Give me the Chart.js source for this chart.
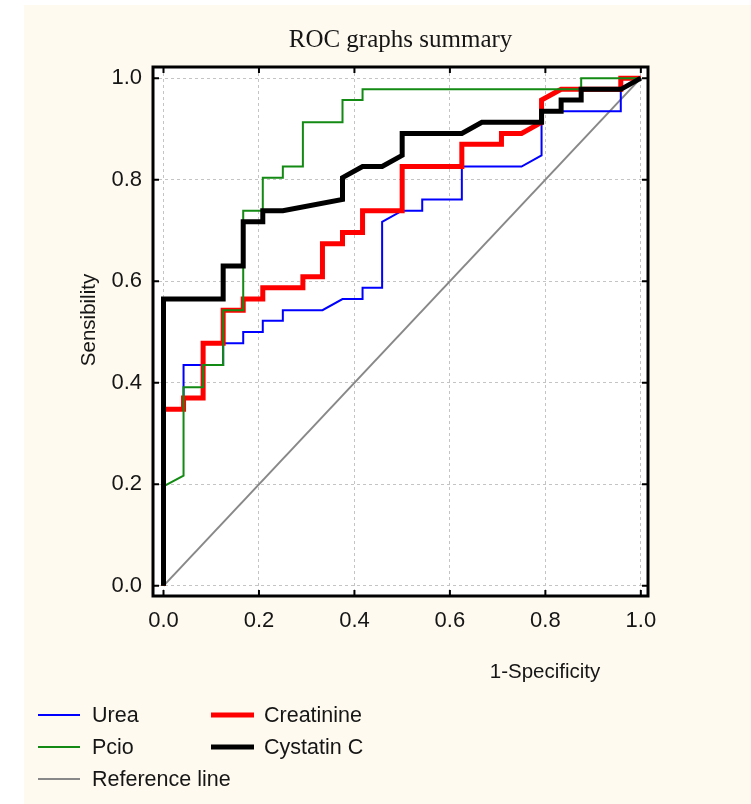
<!DOCTYPE html>
<html>
<head>
<meta charset="utf-8">
<script src="https://cdn.jsdelivr.net/npm/chart.js@4.4.1/dist/chart.umd.min.js"></script>
<style>
html, body { margin: 0; padding: 0; background: #fff; }
#wrap { position: relative; width: 751px; height: 804px; overflow: hidden; }
#paper { position: absolute; left: 24px; top: 5px; right: 0; bottom: 0; background: #fefaef; }
#roc { position: absolute; left: 0; top: 0; }
</style>
</head>
<body>
<div id="wrap"><div id="paper"></div><canvas id="roc" width="751" height="804"></canvas></div>
<script>
// ROC step curves (x = 1-Specificity, y = Sensibility)
const ureaX = [0, 0, 0.042, 0.042, 0.125, 0.125, 0.167, 0.167, 0.208, 0.208, 0.25, 0.25, 0.333, 0.375, 0.417, 0.417, 0.458, 0.458, 0.5, 0.542, 0.542, 0.625, 0.625, 0.75, 0.792, 0.792, 0.958, 0.958, 1]
const ureaY = [0, 0.348, 0.348, 0.435, 0.435, 0.478, 0.478, 0.5, 0.5, 0.522, 0.522, 0.543, 0.543, 0.565, 0.565, 0.587, 0.587, 0.717, 0.739, 0.739, 0.761, 0.761, 0.826, 0.826, 0.848, 0.935, 0.935, 0.978, 1]

const creatX = [0, 0, 0.042, 0.042, 0.083, 0.083, 0.125, 0.125, 0.167, 0.167, 0.208, 0.208, 0.292, 0.292, 0.333, 0.333, 0.375, 0.375, 0.417, 0.417, 0.5, 0.5, 0.625, 0.625, 0.708, 0.708, 0.75, 0.792, 0.792, 0.833, 0.958, 0.958, 1]
const creatY = [0, 0.348, 0.348, 0.370, 0.370, 0.478, 0.478, 0.543, 0.543, 0.565, 0.565, 0.587, 0.587, 0.609, 0.609, 0.674, 0.674, 0.696, 0.696, 0.739, 0.739, 0.826, 0.826, 0.870, 0.870, 0.891, 0.891, 0.913, 0.957, 0.978, 0.978, 1, 1]

const pcioX = [0, 0, 0.042, 0.042, 0.083, 0.083, 0.125, 0.125, 0.167, 0.167, 0.208, 0.208, 0.25, 0.25, 0.292, 0.292, 0.375, 0.375, 0.417, 0.417, 0.875, 0.875, 1]
const pcioY = [0, 0.196, 0.217, 0.391, 0.391, 0.435, 0.435, 0.543, 0.543, 0.739, 0.739, 0.804, 0.804, 0.826, 0.826, 0.913, 0.913, 0.957, 0.957, 0.978, 0.978, 1, 1]

const cystX = [0, 0, 0.125, 0.125, 0.167, 0.167, 0.208, 0.208, 0.25, 0.375, 0.375, 0.417, 0.458, 0.5, 0.5, 0.625, 0.667, 0.792, 0.792, 0.833, 0.833, 0.875, 0.875, 0.958, 1]
const cystY = [0, 0.565, 0.565, 0.630, 0.630, 0.717, 0.717, 0.739, 0.739, 0.761, 0.804, 0.826, 0.826, 0.848, 0.891, 0.891, 0.913, 0.913, 0.935, 0.935, 0.957, 0.957, 0.978, 0.978, 1]

const refX = [0, 1]
const refY = [0, 1]

const tickValues = [0, 0.2, 0.4, 0.6, 0.8, 1.0]

const pts = (xs, ys) => xs.map((x, i) => ({ x: x, y: ys[i] }))

const lineDefaults = {
    showLine: true,
    pointRadius: 0,
    pointHoverRadius: 0,
    tension: 0,
    borderJoinStyle: 'miter',
    borderCapStyle: 'butt',
    fill: false
}

const FONT = "'Liberation Sans', Arial, sans-serif"
const TEXT = '#161616'

// white plot area
const plotBg = {
    id: 'plotBg',
    beforeDraw(chart) {
        const { ctx, chartArea: a } = chart
        ctx.save()
        ctx.fillStyle = '#ffffff'
        ctx.fillRect(a.left, a.top, a.right - a.left, a.bottom - a.top)
        ctx.restore()
    }
}

// black frame with inward ticks on all four sides
const frame = {
    id: 'frame',
    afterDatasetsDraw(chart) {
        const { ctx, chartArea: a, scales } = chart
        ctx.save()
        ctx.strokeStyle = '#000'
        ctx.lineWidth = 2
        ctx.beginPath()
        tickValues.forEach(v => {
            const px = scales.x.getPixelForValue(v)
            const py = scales.y.getPixelForValue(v)
            ctx.moveTo(px, a.bottom); ctx.lineTo(px, a.bottom - 6)
            ctx.moveTo(px, a.top); ctx.lineTo(px, a.top + 6)
            ctx.moveTo(a.left, py); ctx.lineTo(a.left + 6, py)
            ctx.moveTo(a.right, py); ctx.lineTo(a.right - 6, py)
        })
        ctx.stroke()
        ctx.lineWidth = 3
        ctx.strokeRect(a.left, a.top, a.right - a.left, a.bottom - a.top)
        ctx.restore()
    }
}

// axis titles and the two-column legend below the plot
const extras = {
    id: 'extras',
    afterDraw(chart) {
        const { ctx } = chart
        ctx.save()
        ctx.fillStyle = TEXT
        ctx.font = '20.5px ' + FONT
        ctx.textAlign = 'center'
        ctx.textBaseline = 'alphabetic'
        ctx.fillText('1-Specificity', 545, 678)

        ctx.save()
        ctx.translate(95, 320)
        ctx.rotate(-Math.PI / 2)
        ctx.fillText('Sensibility', 0, 0)
        ctx.restore()

        ctx.font = '21.5px ' + FONT
        ctx.textAlign = 'left'
        ctx.textBaseline = 'middle'
        const rows = [715, 747, 779]
        const cols = [{ x0: 38, x1: 80, tx: 92 }, { x0: 211, x1: 254, tx: 264 }]
        chart.data.datasets.forEach((ds, i) => {
            const c = cols[i % 2]
            const y = rows[Math.floor(i / 2)]
            ctx.strokeStyle = ds.borderColor
            ctx.lineWidth = ds.borderWidth
            ctx.beginPath()
            ctx.moveTo(c.x0, y)
            ctx.lineTo(c.x1, y)
            ctx.stroke()
            ctx.fillText(ds.label, c.tx, y + 1)
        })
        ctx.restore()
    }
}

new Chart(document.getElementById('roc'), {
    type: 'scatter',
    data: {
        datasets: [
            Object.assign({}, lineDefaults, { label: 'Urea', data: pts(ureaX, ureaY), borderColor: '#0000ff', borderWidth: 2, order: 3 }),
            Object.assign({}, lineDefaults, { label: 'Creatinine', data: pts(creatX, creatY), borderColor: '#ff0000', borderWidth: 5, order: 2 }),
            Object.assign({}, lineDefaults, { label: 'Pcio', data: pts(pcioX, pcioY), borderColor: '#138a13', borderWidth: 2, order: 1 }),
            Object.assign({}, lineDefaults, { label: 'Cystatin C', data: pts(cystX, cystY), borderColor: '#000000', borderWidth: 5, order: 0 }),
            Object.assign({}, lineDefaults, { label: 'Reference line', data: pts(refX, refY), borderColor: '#888888', borderWidth: 2, order: 4 })
        ]
    },
    options: {
        responsive: false,
        animation: false,
        events: [],
        layout: { padding: { left: 93, right: 103, top: 0, bottom: 148 } },
        plugins: {
            legend: { display: false },
            tooltip: { enabled: false },
            title: {
                display: true,
                fullSize: false,
                text: 'ROC graphs summary',
                color: TEXT,
                font: { family: "'Liberation Serif', 'Times New Roman', serif", size: 25, weight: 'normal', lineHeight: 1.2 },
                padding: { top: 25, bottom: 12 }
            }
        },
        scales: {
            x: {
                type: 'linear',
                min: -0.022,
                max: 1.015,
                afterBuildTicks: s => { s.ticks = tickValues.map(v => ({ value: v })) },
                afterFit: s => { s.height = 60; s.paddingLeft = 0; s.paddingRight = 0 },
                ticks: {
                    color: TEXT,
                    padding: 12,
                    maxRotation: 0,
                    font: { family: FONT, size: 22 },
                    callback: v => v.toFixed(1)
                },
                grid: { color: '#c4c4c4', lineWidth: 1, drawTicks: false },
                border: { display: false, dash: [3, 3] }
            },
            y: {
                type: 'linear',
                min: -0.02,
                max: 1.022,
                afterBuildTicks: s => { s.ticks = tickValues.map(v => ({ value: v })) },
                afterFit: s => { s.width = 60; s.paddingTop = 0; s.paddingBottom = 0 },
                ticks: {
                    color: TEXT,
                    padding: 11,
                    font: { family: FONT, size: 22 },
                    callback: v => v.toFixed(1)
                },
                grid: { color: '#c4c4c4', lineWidth: 1, drawTicks: false },
                border: { display: false, dash: [3, 3] }
            }
        }
    },
    plugins: [plotBg, frame, extras]
})
</script>
</body>
</html>
